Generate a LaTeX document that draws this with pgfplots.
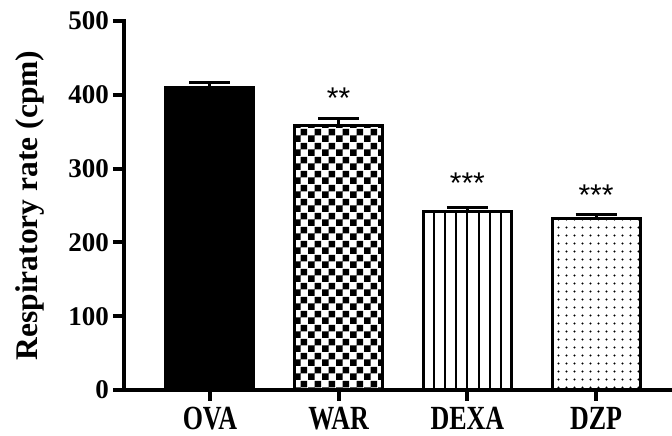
\documentclass[border=0pt]{standalone}
\usepackage{graphicx}
\usepackage{pgfplots}
\pgfplotsset{compat=1.18}
\usepackage{fontspec}
\setmainfont{Liberation Serif}
\newfontfamily\starfont{Liberation Sans}
\usetikzlibrary{patterns}

\pgfdeclarepatternformonly{mychecker}{\pgfpointorigin}{\pgfqpoint{14pt}{14pt}}{\pgfqpoint{14pt}{14pt}}{%
  \pgfpathrectangle{\pgfpointorigin}{\pgfqpoint{7pt}{7pt}}%
  \pgfpathrectangle{\pgfqpoint{7pt}{7pt}}{\pgfqpoint{7pt}{7pt}}%
  \pgfusepath{fill}}
\pgfdeclarepatternformonly{mydots}{\pgfpointorigin}{\pgfqpoint{7.5pt}{7.5pt}}{\pgfqpoint{7.5pt}{7.5pt}}{%
  \pgfpathcircle{\pgfqpoint{3.75pt}{3.75pt}}{1.15pt}\pgfusepath{fill}}

\pgfplotstableread{
x y err
0 410 7
}\ova
\pgfplotstableread{
x y err
1 358 10
}\war
\pgfplotstableread{
x y err
2 242 5.5
}\dexa
\pgfplotstableread{
x y err
3 232.5 5.5
}\dzp
% vertical hatch lines of the DEXA bar
\pgfplotstableread{
x y
1.739 242
1.826 242
1.913 242
2.000 242
2.087 242
2.174 242
2.261 242
}\dexalines

\begin{document}
\begin{tikzpicture}
\path[use as bounding box] (-124pt,-46pt) rectangle (548pt,390pt);
\begin{axis}[
  at={(0,0)}, anchor=south west,
  scale only axis, width=548pt, height=369pt,
  xmin=-0.668, xmax=3.59, ymin=0, ymax=500,
  axis lines=left,
  axis line style={line width=4pt, -, line cap=rect},
  clip=false,
  xtick={0,1,2,3},
  xticklabels={\scalebox{1}[1.3]{OVA},\scalebox{1}[1.3]{WAR},\scalebox{1}[1.3]{DEXA},\scalebox{1}[1.3]{DZP}},
  ytick={0,100,200,300,400,500},
  tick align=outside,
  major tick length=11pt,
  every tick/.style={line width=4pt, black},
  /pgf/number format/assume math mode=true,
  yticklabel style={font=\fontsize{27}{27}\selectfont\bfseries, inner sep=0pt, xshift=-4pt},
  xticklabel style={font=\fontsize{26}{26}\selectfont\bfseries, inner sep=0pt, yshift=-6pt},
  ylabel={\bfseries Respiratory rate (cpm)},
  ylabel style={font=\fontsize{31.5}{31.5}\selectfont, at={(axis description cs:-0.1715,0.5)}, anchor=center, rotate=0},
  error bars/y dir=plus,
  error bars/y explicit,
  error bars/error mark=|,
  error bars/error bar style={line width=3pt, black},
  error bars/error mark options={line width=3pt, black, mark size=20.5pt},
]
\addplot[ybar, bar width=0.684, bar shift=0pt, draw=black, line width=3pt, fill=black]
  table[x=x, y=y, y error=err] {\ova};
\addplot[ybar, bar width=0.684, bar shift=0pt, draw=black, line width=3pt, fill=white, postaction={pattern=mychecker}]
  table[x=x, y=y, y error=err] {\war};
\addplot[ybar, bar width=0.684, bar shift=0pt, draw=black, line width=3pt, fill=white]
  table[x=x, y=y, y error=err] {\dexa};
\addplot[ycomb, black, line width=2pt, mark=none, forget plot]
  table[x=x, y=y] {\dexalines};
\addplot[ybar, bar width=0.684, bar shift=0pt, draw=black, line width=3pt, fill=white, postaction={pattern=mydots}]
  table[x=x, y=y, y error=err] {\dzp};
\addplot[draw=none, mark=none, nodes near coords, point meta=explicit symbolic,
  nodes near coords align={anchor=base},
  every node near coord/.append style={font=\starfont\fontsize{30}{30}\selectfont, inner sep=0pt, text=black}]
  table[x=x, y=y, meta=lab] {
x y lab
1 381 {**}
2 266 {***}
3 250 {***}
};
\end{axis}
\end{tikzpicture}
\end{document}
